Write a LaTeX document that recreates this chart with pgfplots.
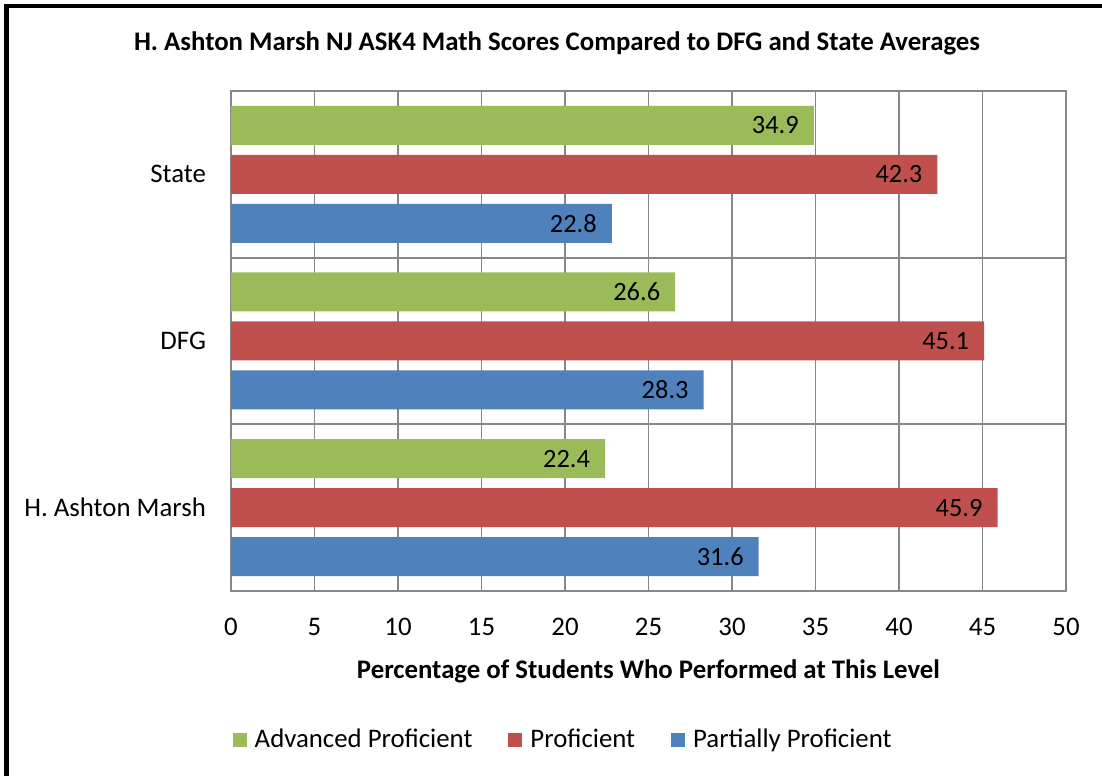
\documentclass[border=0pt]{standalone}
\usepackage{fontspec}
\setmainfont{Carlito}
\usepackage{pgfplots}
\pgfplotsset{compat=1.18}
\definecolor{cgreen}{HTML}{9BBB59}
\definecolor{cred}{HTML}{C0504D}
\definecolor{cblue}{HTML}{4F81BD}
\definecolor{cgrid}{HTML}{878787}
\begin{document}
\begin{tikzpicture}
\path[use as bounding box] (0,0) rectangle (551pt,388pt);
\draw[line width=2.2pt,black] (3.25pt,0) -- (3.25pt,385pt) -- (551pt,385pt);
\node[font=\bfseries\fontsize{13.4}{15}\selectfont] at (278.5pt,366.5pt) {H. Ashton Marsh NJ ASK4 Math Scores Compared to DFG and State Averages};
\begin{axis}[
  at={(115.5pt,92.5pt)}, anchor=south west,
  scale only axis, width=417.5pt, height=250pt,
  xmin=0, xmax=50, ymin=-0.5, ymax=2.5,
  xtick={0,5,...,50},
  ytick={0,1,2},
  yticklabels={H. Ashton Marsh, DFG, State},
  minor ytick={0.5,1.5},
  xmajorgrids=true, yminorgrids=true,
  grid style={cgrid, line width=0.9pt},
  axis line style={cgrid, line width=0.9pt},
  major tick length=0pt, minor tick length=0pt,
  tick label style={font=\fontsize{13.4}{15}\selectfont},
  /pgf/number format/assume math mode=true,
  xticklabel style={yshift=-10pt},
  yticklabel style={xshift=-9pt},
  xlabel={\textbf{Percentage of Students Who Performed at This Level}},
  xlabel style={font=\fontsize{13.4}{15}\selectfont, yshift=-5pt},
  xbar, bar shift=0pt, bar width=0.234,
  nodes near coords,
  nodes near coords style={anchor=east, font=\fontsize{13.2}{15}\selectfont, xshift=-4pt},
  point meta=explicit symbolic,
  legend style={at={(0.399,-0.298)}, anchor=center, draw=none, legend columns=3,
    font=\fontsize{13.4}{15}\selectfont,
    /tikz/every even column/.append style={column sep=16pt}},
  legend image code/.code={\fill[#1] (0pt,-3.5pt) rectangle (7pt,3.5pt); \path (9pt,0pt);},
  legend cell align=left,
]
\addplot[fill=cgreen, draw=none] coordinates {(22.4,0.294)[22.4] (26.6,1.294)[26.6] (34.9,2.294)[34.9]};
\addplot[fill=cred, draw=none] coordinates {(45.9,0)[45.9] (45.1,1)[45.1] (42.3,2)[42.3]};
\addplot[fill=cblue, draw=none] coordinates {(31.6,-0.294)[31.6] (28.3,0.706)[28.3] (22.8,1.706)[22.8]};
\legend{Advanced Proficient, Proficient, Partially Proficient}
\end{axis}
\end{tikzpicture}
\end{document}
